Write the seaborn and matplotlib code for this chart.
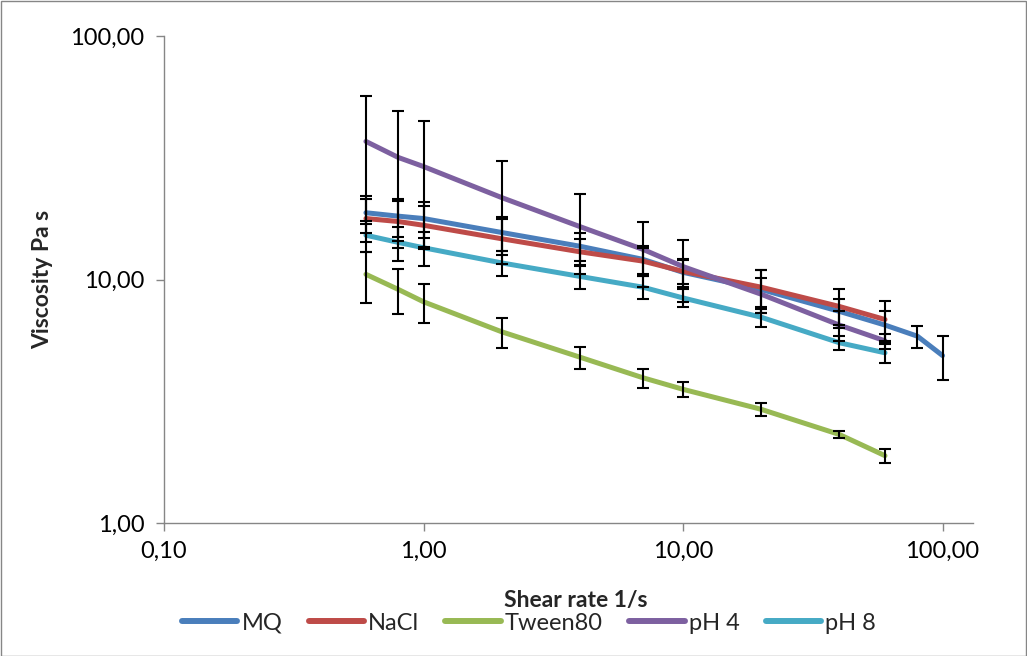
import numpy as np
import pandas as pd
import seaborn as sns
import matplotlib
matplotlib.use("Agg")
import matplotlib.pyplot as plt
from matplotlib.ticker import FixedLocator, FuncFormatter, NullLocator
from matplotlib.patches import Rectangle

# ---- data ----
series_names = ["MQ", "NaCl", "Tween80", "pH 4", "pH 8"]
colors = ["#4A7EBB", "#BE4B48", "#98B954", "#7D60A0", "#46AAC5"]

shear_mq = [0.6, 0.8, 1, 2, 4, 7, 10, 20, 40, 60, 80, 100]
shear = [0.6, 0.8, 1, 2, 4, 7, 10, 20, 40, 60]

mq = [18.8, 18.2, 17.8, 15.6, 13.7, 12.1, 10.7, 9.1, 7.4, 6.5, 5.85, 4.87]
mq_err = [3.3, 3.2, 3.0, 2.5, 1.8, 1.6, 1.4, 1.8, 0.9, 0.9, 0.6, 1.0]

nacl = [17.8, 17.3, 16.7, 14.7, 13.0, 11.9, 10.8, 9.3, 7.75, 6.85]
nacl_err = [3.6, 3.8, 3.4, 3.1, 1.6, 1.6, 1.2, 1.6, 1.4, 1.3]

tween = [10.5, 9.1, 8.1, 6.1, 4.8, 3.95, 3.54, 2.93, 2.31, 1.89]
tween_err = [2.5, 1.9, 1.5, 0.85, 0.5, 0.35, 0.25, 0.17, 0.07, 0.12]

ph4 = [36.9, 31.7, 29.1, 21.7, 16.5, 13.3, 11.3, 8.7, 6.5, 5.6]
ph4_err = [20.0, 17.3, 15.5, 9.1, 6.0, 4.0, 3.2, 1.4, 0.9, 0.4]

ph8 = [15.2, 14.2, 13.5, 11.7, 10.3, 9.3, 8.4, 7.0, 5.5, 5.0]
ph8_err = [2.2, 2.3, 2.1, 1.4, 1.2, 1.0, 0.7, 0.6, 0.35, 0.45]

x_ticks = [0.1, 1, 10, 100]
y_ticks = [1, 10, 100]

# ---- build long table ----
rows = []
all_x = [shear_mq, shear, shear, shear, shear]
all_y = [mq, nacl, tween, ph4, ph8]
all_e = [mq_err, nacl_err, tween_err, ph4_err, ph8_err]
for name, xs, ys, es in zip(series_names, all_x, all_y, all_e):
    for x, y, e in zip(xs, ys, es):
        rows.append({"Shear rate": x, "Viscosity": y, "err": e, "Sample": name})
df = pd.DataFrame(rows)

sns.set_theme(style="white")
plt.rcParams["font.family"] = ["Lato", "DejaVu Sans"]

fig = plt.figure(figsize=(10.27, 6.56), dpi=100)
ax = fig.add_axes([164 / 1027, 1 - 523 / 656, (973 - 164) / 1027, (523 - 36) / 656])

sns.lineplot(data=df, x="Shear rate", y="Viscosity", hue="Sample",
             hue_order=series_names, palette=colors, linewidth=3.6,
             sort=True, estimator=None, ax=ax, zorder=2)

for name in series_names:
    sub = df[df["Sample"] == name]
    ax.errorbar(sub["Shear rate"], sub["Viscosity"], yerr=sub["err"],
                fmt="none", ecolor="black", elinewidth=1.5, capsize=4.2,
                capthick=1.5, zorder=3)

ax.set_xscale("log")
ax.set_yscale("log")
ax.set_xlim(0.1, 131)
ax.set_ylim(1, 100)

fmt = FuncFormatter(lambda v, p: f"{v:.2f}".replace(".", ","))
ax.xaxis.set_major_locator(FixedLocator(x_ticks))
ax.yaxis.set_major_locator(FixedLocator(y_ticks))
ax.xaxis.set_minor_locator(NullLocator())
ax.yaxis.set_minor_locator(NullLocator())
ax.xaxis.set_major_formatter(fmt)
ax.yaxis.set_major_formatter(fmt)

for s in ["top", "right"]:
    ax.spines[s].set_visible(False)
for s in ["left", "bottom"]:
    ax.spines[s].set_color("#868686")
    ax.spines[s].set_linewidth(1.0)
ax.tick_params(axis="both", which="major", direction="out", length=6,
               width=1.0, color="#868686", labelsize=17, labelcolor="black",
               bottom=True, left=True)
ax.tick_params(axis="x", pad=7)
ax.tick_params(axis="y", pad=8)
ax.grid(False)

ax.set_xlabel("Shear rate 1/s", fontsize=16.5, fontweight="bold")
ax.set_ylabel("Viscosity Pa s", fontsize=16.5, fontweight="bold")
ax.xaxis.label.set_va("center")
ax.yaxis.label.set_va("center")
ax.xaxis.set_label_coords((576 - 164) / 809, -(600 - 523) / 487)
ax.yaxis.set_label_coords((43 - 164) / 809, (523 - 279) / 487)

leg = ax.legend(loc="center", bbox_to_anchor=(529 / 1027, 1 - 623 / 656),
                bbox_transform=fig.transFigure, ncol=5, frameon=False,
                fontsize=17, handlelength=2.35, handletextpad=0.18,
                columnspacing=1.1, borderpad=0.1)
for line in leg.get_lines():
    line.set_linewidth(4.3)
    line.set_solid_capstyle("round")

fig.patches.append(Rectangle((0.5 / 1027, 0.5 / 656), 1 - 1.5 / 1027, 1 - 1.5 / 656,
                             transform=fig.transFigure, fill=False,
                             edgecolor="#868686", linewidth=1.0))

fig.savefig("out.png", dpi=100, facecolor="white")
